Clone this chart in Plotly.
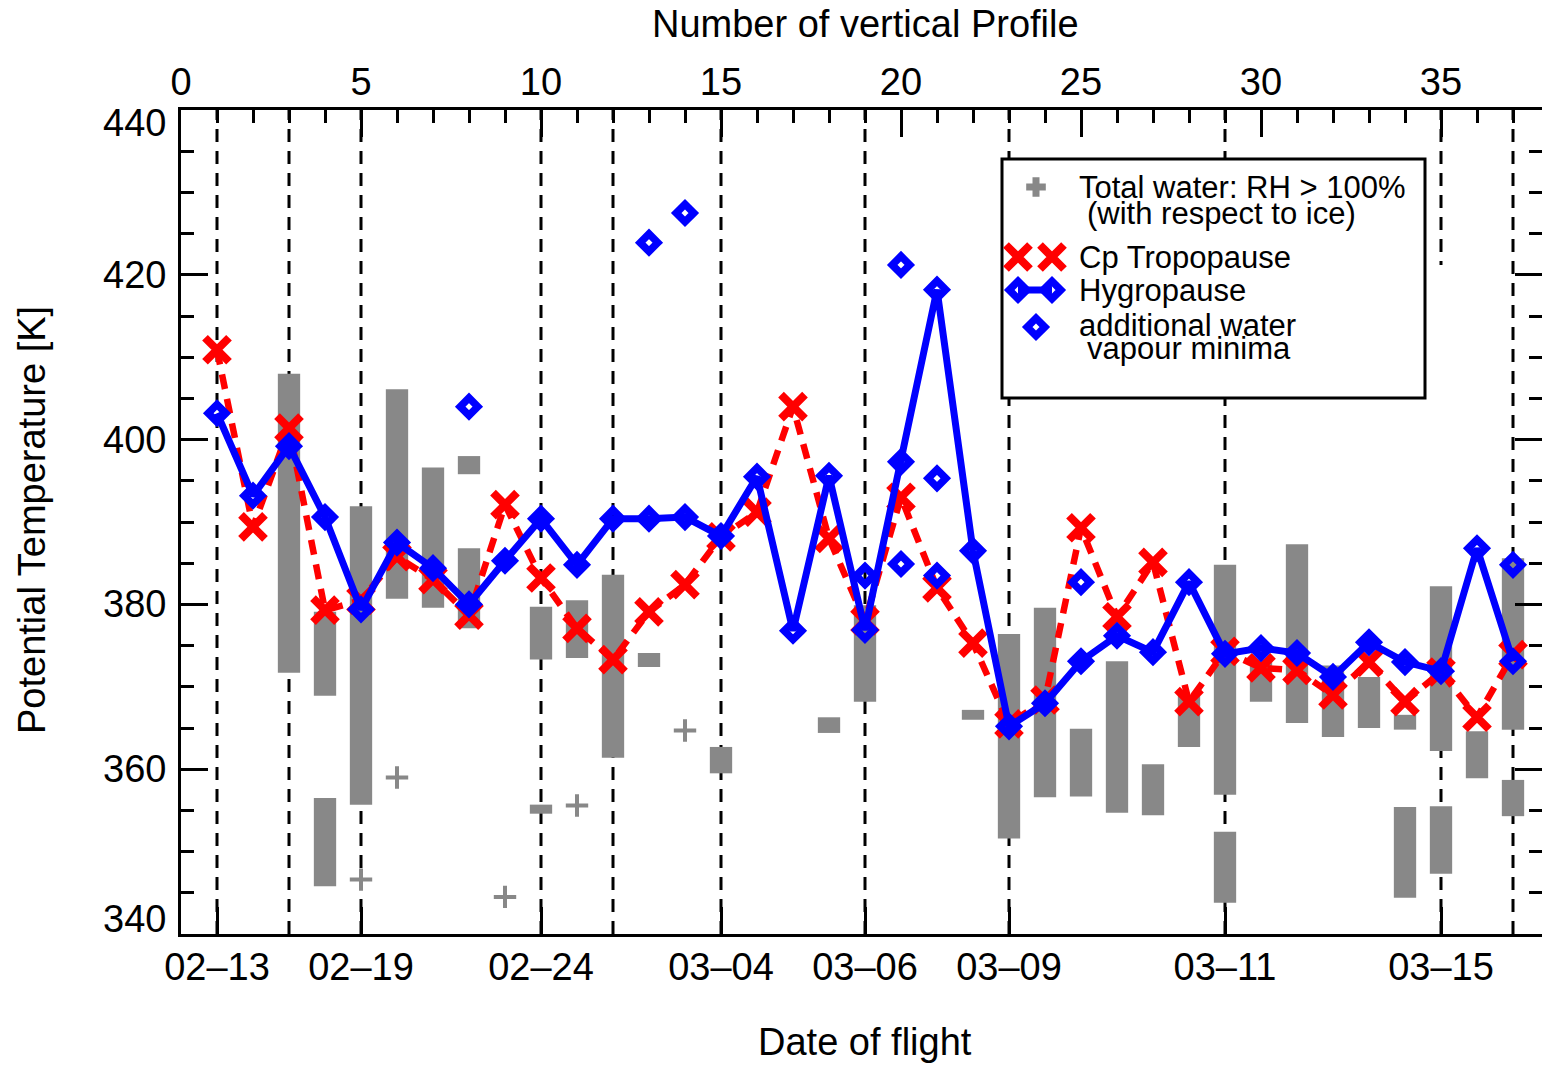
import plotly.graph_objects as go

# ---------------- data ----------------
profiles = list(range(1, 38))
cp_tropopause = [410.9, 389.4, 401.4, 379.3, 380.5, 385.8, 383.0, 378.7, 392.1, 383.2,
                 377.1, 373.3, 379.1, 382.4, 388.2, 391.2, 404.0, 388.0, 378.0, 393.0,
                 382.0, 375.3, 365.5, 368.4, 389.3, 378.5, 385.1, 368.2, 374.3, 372.3,
                 372.0, 369.0, 373.0, 368.2, 371.8, 366.3, 373.9]
hygropause = [403.2, 393.2, 399.2, 390.6, 379.4, 387.5, 384.4, 380.0, 385.3, 390.4,
              384.8, 390.4, 390.4, 390.6, 388.3, 395.5, 376.8, 395.6, 376.9, 397.3,
              418.2, 386.5, 365.2, 368.0, 373.1, 376.2, 374.2, 382.7, 374.0, 374.7,
              374.1, 371.2, 375.4, 373.0, 371.9, 386.8, 373.1]
extra_min_x = [8, 13, 14, 19, 20, 20, 21, 21, 25, 37]
extra_min_y = [404.0, 423.9, 427.5, 383.5, 421.2, 384.9, 395.3, 383.5, 382.7, 384.8]

water_x = [3, 4, 4, 5, 6, 7, 8, 8, 10, 10, 11, 12, 13, 15, 18, 19, 22, 23, 24, 25,
           26, 27, 28, 29, 29, 30, 31, 32, 33, 34, 34, 35, 35, 36, 37, 37]
water_lo = [371.7, 368.9, 345.8, 355.7, 380.7, 379.6, 395.8, 377.1, 373.3, 354.6,
            373.5, 361.4, 372.4, 359.5, 364.4, 368.2, 366.0, 351.6, 356.6, 356.7,
            354.7, 354.4, 362.7, 356.9, 343.8, 368.2, 365.6, 363.9, 365.0, 364.8,
            344.4, 362.2, 347.3, 358.9, 364.8, 354.3]
water_hi = [408.0, 379.1, 356.5, 391.9, 406.1, 396.6, 398.0, 386.8, 379.7, 355.7,
            380.5, 383.6, 374.1, 362.7, 366.3, 379.9, 367.2, 376.4, 379.6, 364.9,
            373.1, 360.6, 368.9, 384.8, 352.4, 373.3, 387.3, 372.6, 371.2, 366.6,
            355.4, 382.2, 355.5, 364.6, 385.6, 358.7]
water_pt_x = [5, 6, 9, 11, 14]
water_pt_y = [346.6, 359.0, 344.5, 355.6, 364.7]

flight_bounds = [1, 3, 5, 10, 12, 15, 19, 23, 29, 35, 37]
date_pos = [1, 5, 10, 15, 19, 23, 29, 35]
date_labels = ["02\u201313", "02\u201319", "02\u201324", "03\u201304",
               "03\u201306", "03\u201309", "03\u201311", "03\u201315"]
y_ticks = [340, 360, 380, 400, 420, 440]

# ---------------- layout constants ----------------
W, H = 1543, 1065
ML, MR, MT, MB = 181, 1, 110, 131
PX_PER_PROFILE = 36.0
XMAX = (W - ML - MR) / PX_PER_PROFILE
YMIN, YMAX = 340, 440
PLOT_H = H - MT - MB
FONT = "Liberation Sans, Arial, Helvetica, sans-serif"
GREY = "#888888"
BLUE = "#0000ff"
RED = "#ff0000"


def px_x(px):
    return (px - ML) / PX_PER_PROFILE


def px_y(py):
    return YMAX - (py - MT) / PLOT_H * (YMAX - YMIN)


def paper_x(px):
    return (px - ML) / (W - ML - MR)


def paper_y(py):
    return (H - MB - py) / PLOT_H


fig = go.Figure()

# total water ranges (stacks of RH>100% points)
fig.add_trace(go.Bar(
    x=water_x, base=water_lo,
    y=[h - l for h, l in zip(water_hi, water_lo)],
    width=0.62, marker=dict(color=GREY, line=dict(width=0)),
    hoverinfo="skip"))
fig.add_trace(go.Scatter(
    x=water_pt_x, y=water_pt_y, mode="markers",
    marker=dict(symbol="cross-thin", size=16, line=dict(width=4, color=GREY), color=GREY),
    hoverinfo="skip"))

# Cp tropopause
fig.add_trace(go.Scatter(
    x=profiles, y=cp_tropopause, mode="lines+markers",
    line=dict(color=RED, width=6.5, dash="15px,10px"),
    marker=dict(symbol="x-thin", size=24, color=RED, line=dict(width=8, color=RED))))

# hygropause
fig.add_trace(go.Scatter(
    x=profiles, y=hygropause, mode="lines+markers",
    line=dict(color=BLUE, width=7),
    marker=dict(symbol="diamond-open", size=13.5, color=BLUE, line=dict(width=7.5, color=BLUE))))

# additional minima
fig.add_trace(go.Scatter(
    x=extra_min_x, y=extra_min_y, mode="markers",
    marker=dict(symbol="diamond-open", size=13.5, color=BLUE, line=dict(width=7.5, color=BLUE))))

# legend samples
fig.add_trace(go.Scatter(
    x=[px_x(1036)], y=[px_y(187)], mode="markers",
    marker=dict(symbol="cross-thin", size=14, color=GREY, line=dict(width=7, color=GREY))))
fig.add_trace(go.Scatter(
    x=[px_x(1018), px_x(1052)], y=[px_y(257), px_y(257)], mode="markers",
    marker=dict(symbol="x-thin", size=24, color=RED, line=dict(width=8, color=RED))))
fig.add_trace(go.Scatter(
    x=[px_x(1018), px_x(1052)], y=[px_y(290), px_y(290)], mode="lines+markers",
    line=dict(color=BLUE, width=7),
    marker=dict(symbol="diamond-open", size=13.5, color=BLUE, line=dict(width=7.5, color=BLUE))))
fig.add_trace(go.Scatter(
    x=[px_x(1036)], y=[px_y(327)], mode="markers",
    marker=dict(symbol="diamond-open", size=13.5, color=BLUE, line=dict(width=7.5, color=BLUE))))

# dummy trace for secondary axes
fig.add_trace(go.Scatter(x=[None], y=[None], xaxis="x2", yaxis="y2", mode="markers"))

shapes = []
for xb in flight_bounds:
    shapes.append(dict(type="line", xref="x", yref="y", x0=xb, x1=xb, y0=YMIN, y1=YMAX,
                       line=dict(color="black", width=3, dash="13px,9px"), layer="below"))
# erased part of the 03-15 boundary line
shapes.append(dict(type="rect", xref="x", yref="y", x0=px_x(1427), x1=px_x(1452),
                   y0=375, y1=px_y(265), fillcolor="white", line=dict(width=0), layer="below"))
# legend box (same layer as the dashed lines, drawn after them)
shapes.append(dict(type="rect", xref="x", yref="y",
                   x0=px_x(1002), x1=px_x(1425), y0=px_y(398), y1=px_y(159),
                   fillcolor="white", line=dict(color="black", width=3), layer="below"))

ann = []
tick_font = dict(family=FONT, size=38, color="black")
for v in y_ticks:
    ys = -13 if v == YMAX else (15 if v == YMIN else 0)
    ann.append(dict(x=0, xref="paper", y=v, yref="y", text=str(v), showarrow=False,
                    xanchor="right", yanchor="middle", xshift=-13, yshift=ys, font=tick_font))

ann.append(dict(x=paper_x(865), xref="paper", y=paper_y(24), yref="paper",
                text="Number of vertical Profile", showarrow=False,
                xanchor="center", yanchor="middle", font=tick_font))
ann.append(dict(x=paper_x(865), xref="paper", y=paper_y(1042), yref="paper",
                text="Date of flight", showarrow=False,
                xanchor="center", yanchor="middle", font=tick_font))
ann.append(dict(x=paper_x(32), xref="paper", y=paper_y(520), yref="paper",
                text="Potential Temperature [K]", showarrow=False, textangle=-90,
                xanchor="center", yanchor="middle", font=tick_font))

leg_font = dict(family=FONT, size=31, color="black")
legend_lines = [
    ("Total water: RH > 100%", 1077, 187),
    ("(with respect to ice)", 1085, 213),
    ("Cp Tropopause", 1077, 257),
    ("Hygropause", 1077, 290),
    ("additional water", 1077, 325),
    ("vapour minima", 1085, 348),
]
for txt, lx, ly in legend_lines:
    ann.append(dict(x=paper_x(lx), xref="paper", y=paper_y(ly), yref="paper", text=txt,
                    showarrow=False, xanchor="left", yanchor="middle", font=leg_font))

axis_common = dict(showgrid=False, zeroline=False, automargin=False,
                   ticks="inside", tickwidth=3, tickcolor="black")

fig.update_layout(
    width=W, height=H,
    margin=dict(l=ML, r=MR, t=MT, b=MB, pad=0),
    paper_bgcolor="white", plot_bgcolor="white",
    showlegend=False, barmode="overlay",
    font=dict(family=FONT, color="black"),
    xaxis=dict(range=[0, XMAX], tickmode="array", tickvals=date_pos, ticktext=date_labels,
               ticklen=27, showline=True, linewidth=3, linecolor="black",
               tickfont=tick_font, ticklabelstandoff=-3, **axis_common),
    xaxis2=dict(range=[0, XMAX], overlaying="x", side="top", anchor="y",
                tickmode="linear", tick0=0, dtick=5, ticklen=27,
                minor=dict(dtick=1, tick0=0, ticks="inside", ticklen=13, tickwidth=3, tickcolor="black"),
                showline=True, linewidth=3, linecolor="black",
                tickfont=tick_font, ticklabelstandoff=-3, **axis_common),
    yaxis=dict(range=[YMIN, YMAX], tickmode="linear", tick0=YMIN, dtick=20, ticklen=27,
               minor=dict(dtick=5, tick0=YMIN, ticks="inside", ticklen=13, tickwidth=3, tickcolor="black"),
               showline=True, linewidth=3, linecolor="black", showticklabels=False, **axis_common),
    yaxis2=dict(range=[YMIN, YMAX], overlaying="y", side="right", anchor="x",
                tickmode="linear", tick0=YMIN, dtick=20, ticklen=27,
                minor=dict(dtick=5, tick0=YMIN, ticks="inside", ticklen=13, tickwidth=3, tickcolor="black"),
                showline=False, showticklabels=False, **axis_common),
    shapes=shapes, annotations=ann,
)

fig.write_html("out.html")
